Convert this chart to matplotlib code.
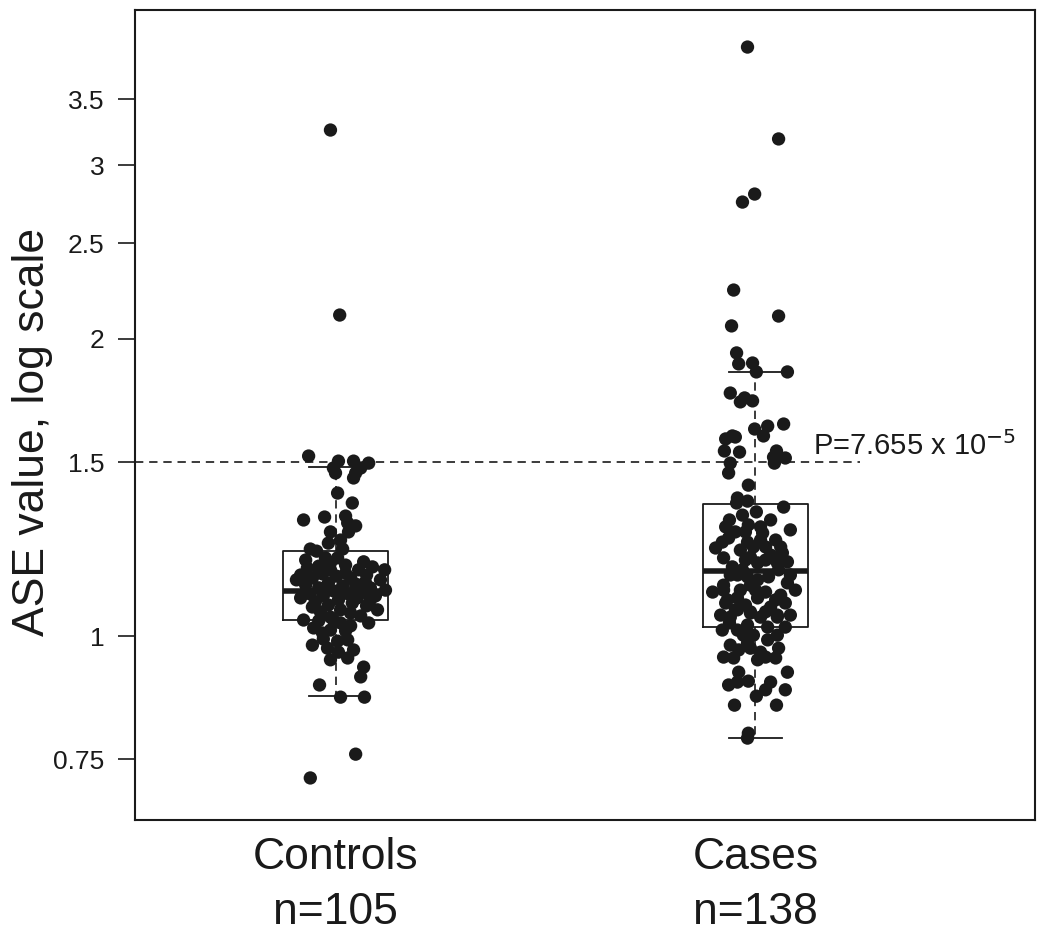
import matplotlib
matplotlib.use("Agg")
import matplotlib.pyplot as plt
import numpy as np

plt.rcParams['font.family'] = ['Liberation Sans', 'DejaVu Sans']

# ---------------- data ----------------
groups = ["Controls", "Cases"]
group_n = ["n=105", "n=138"]

controls_values = [
    3.257, 2.115, 1.522, 1.504, 1.504, 1.497, 1.480, 1.463, 1.463, 1.480,
    1.446, 1.396, 1.364, 1.311, 1.320, 1.323, 1.302, 1.293, 1.275, 1.275,
    1.242, 1.251, 1.225, 1.225, 1.219, 1.200, 1.189, 1.172, 1.177, 1.186,
    1.180, 1.167, 1.175, 1.153, 1.145, 1.156, 1.150, 1.145, 1.153, 1.140,
    1.126, 1.119, 1.132, 1.124, 1.129, 1.119, 1.103, 1.098, 1.111, 1.103,
    1.108, 1.098, 1.083, 1.075, 1.088, 1.080, 1.073, 1.063, 1.055, 1.058,
    1.063, 1.140, 1.167, 1.167, 1.113, 1.093, 1.158, 1.194, 1.200, 1.088,
    1.070, 1.093, 1.113, 1.048, 1.045, 1.106, 1.119, 1.167, 1.134, 1.038,
    1.036, 1.038, 1.031, 1.024, 1.031, 1.019, 1.012, 1.007, 1.014, 0.993,
    0.988, 0.991, 0.972, 0.963, 0.968, 0.950, 0.930, 0.909, 0.892, 0.867,
    0.867, 0.759, 0.718, 0.946, 0.979,
]
controls_jitter = [
    -0.012, 0.010, -0.064, 0.007, 0.043, 0.079, -0.005, 0.000, 0.048, 0.060,
    0.043, 0.005, 0.040, -0.076, -0.026, 0.024, 0.029, 0.048, -0.012, 0.031,
    -0.017, 0.012, 0.017, -0.060, -0.045, -0.024, 0.067, -0.067, -0.040, -0.012,
    0.024, 0.055, 0.088, -0.083, -0.055, -0.031, 0.002, 0.036, 0.074, 0.107,
    -0.071, -0.040, -0.017, 0.017, 0.048, 0.083, -0.060, -0.029, -0.005, 0.031,
    0.064, 0.095, -0.048, -0.017, 0.007, 0.040, 0.074, 0.012, 0.036, -0.036,
    0.100, -0.093, 0.117, -0.012, -0.024, 0.052, 0.024, -0.071, 0.005, 0.083,
    -0.055, -0.083, 0.119, 0.060, -0.012, 0.019, 0.048, -0.040, 0.071, -0.076,
    -0.040, -0.005, 0.012, 0.036, 0.079, -0.052, 0.024, -0.031, -0.012, -0.029,
    0.005, 0.029, -0.019, 0.007, 0.043, 0.029, 0.067, 0.060, -0.038, 0.012,
    0.069, 0.048, -0.060, -0.012, -0.055,
]

cases_values = [
    3.953, 3.190, 2.805, 2.753, 2.242, 2.110, 2.062, 1.936, 1.887, 1.891,
    1.852, 1.852, 1.763, 1.727, 1.743, 1.731, 1.621, 1.632, 1.640, 1.595,
    1.584, 1.595, 1.591, 1.540, 1.536, 1.540, 1.518, 1.497, 1.515, 1.497,
    1.463, 1.380, 1.364, 1.370, 1.422, 1.336, 1.351, 1.311, 1.290, 1.275,
    1.275, 1.272, 1.245, 1.257, 1.245, 1.231, 1.231, 1.231, 1.214, 1.200,
    1.175, 1.202, 1.186, 1.194, 1.186, 1.189, 1.153, 1.148, 1.148, 1.167,
    1.126, 1.113, 1.126, 1.132, 1.093, 1.080, 1.075, 1.093, 1.100, 1.080,
    1.070, 1.045, 1.055, 1.045, 1.050, 1.063, 1.058, 1.058, 1.045, 1.326,
    1.311, 1.281, 1.228, 1.222, 1.251, 1.251, 1.194, 1.208, 1.153, 1.140,
    1.153, 1.108, 1.113, 1.108, 1.113, 1.063, 1.050, 1.050, 1.113, 1.296,
    1.290, 1.088, 1.088, 1.167, 1.031, 1.014, 1.014, 1.026, 1.021, 1.021,
    1.002, 1.002, 1.002, 0.991, 0.979, 0.984, 0.972, 0.972, 0.968, 0.952,
    0.950, 0.946, 0.952, 0.950, 0.963, 0.919, 0.919, 0.892, 0.900, 0.898,
    0.898, 0.882, 0.882, 0.869, 0.851, 0.851, 0.797, 0.788,
]
cases_jitter = [
    -0.019, 0.055, -0.002, -0.031, -0.052, 0.055, -0.057, -0.045, -0.040, -0.007,
    0.002, 0.076, -0.060, -0.036, -0.026, -0.007, -0.002, 0.029, 0.067, 0.019,
    -0.071, -0.055, -0.048, -0.074, -0.038, 0.050, 0.043, 0.045, 0.071, -0.060,
    -0.064, -0.043, -0.045, -0.019, -0.017, 0.002, 0.067, -0.062, -0.071, -0.048,
    -0.024, 0.017, -0.079, -0.064, -0.019, -0.005, 0.024, 0.060, 0.064, -0.076,
    -0.055, -0.012, 0.005, 0.024, 0.052, 0.076, -0.043, -0.019, 0.031, 0.055,
    -0.076, -0.076, -0.012, 0.076, -0.043, -0.071, -0.024, 0.005, 0.060, 0.071,
    0.036, -0.060, -0.012, 0.012, 0.052, -0.043, -0.012, 0.024, 0.052, -0.031,
    0.036, 0.083, -0.095, -0.036, 0.012, 0.048, -0.024, 0.036, -0.060, 0.005,
    0.083, -0.102, -0.036, 0.024, 0.095, -0.048, -0.083, 0.083, 0.000, -0.017,
    0.012, -0.067, 0.048, -0.031, -0.062, -0.079, -0.043, -0.019, 0.029, 0.071,
    -0.029, -0.005, 0.052, 0.029, -0.060, -0.019, -0.012, 0.055, -0.040, -0.076,
    -0.052, 0.005, 0.024, 0.048, 0.012, -0.040, 0.076, -0.064, -0.017, -0.043,
    0.036, 0.024, 0.071, 0.002, -0.050, 0.050, -0.017, -0.019,
]

# box statistics (whislo, q1, median, q3, whishi)
box_whislo = [0.869, 0.788]
box_q1 = [1.038, 1.021]
box_median = [1.111, 1.164]
box_q3 = [1.219, 1.361]
box_whishi = [1.483, 1.852]

y_ticks = [0.75, 1, 1.5, 2, 2.5, 3, 3.5]
y_ticklabels = ["0.75", "1", "1.5", "2", "2.5", "3", "3.5"]
threshold = 1.5
p_label = r"P=7.655 x 10$^{-5}$"

# ---------------- figure ----------------
fig = plt.figure(figsize=(10.5, 9.38), dpi=100)
ax = fig.add_axes([135/1050, 1-820/938, 900/1050, 810/938])

positions = [1, 2]
stats = []
for i in range(2):
    stats.append(dict(med=box_median[i], q1=box_q1[i], q3=box_q3[i],
                      whislo=box_whislo[i], whishi=box_whishi[i], fliers=[]))
ax.bxp(stats, positions=positions, widths=0.25, showfliers=False,
       boxprops=dict(color="#1a1a1a", linewidth=1.3),
       medianprops=dict(color="#1a1a1a", linewidth=4.0, solid_capstyle="butt"),
       whiskerprops=dict(color="#1a1a1a", linewidth=1.2, linestyle=(0, (5, 3.5))),
       capprops=dict(color="#1a1a1a", linewidth=1.3),
       zorder=2)

ax.scatter(np.array(controls_jitter) + positions[0], controls_values,
           s=92, color="#1a1a1a", edgecolors="none", zorder=3)
ax.scatter(np.array(cases_jitter) + positions[1], cases_values,
           s=92, color="#1a1a1a", edgecolors="none", zorder=3)

xlim = (0.5226, 2.6655)
ax.plot([xlim[0], 2.25], [threshold, threshold], color="#1a1a1a",
        linewidth=1.2, linestyle=(0, (5, 3.5)), zorder=1)
ax.text(2.136, threshold * 1.003, p_label, fontsize=21, ha="left",
        va="bottom", color="#1a1a1a")

ax.set_yscale("log")
ax.set_xlim(*xlim)
ax.set_ylim(0.6509, 4.310)
ax.set_yticks(y_ticks)
ax.set_yticklabels(y_ticklabels, fontsize=19)
ax.yaxis.set_minor_locator(matplotlib.ticker.NullLocator())
ax.tick_params(axis="y", length=12, width=1.2, pad=10, colors="#1a1a1a")

ax.set_xticks(positions)
ax.set_xticklabels([g + "\n" + n for g, n in zip(groups, group_n)],
                   fontsize=32, linespacing=1.45)
ax.tick_params(axis="x", length=0, pad=12, colors="#1a1a1a")

for sp in ax.spines.values():
    sp.set_linewidth(1.5)
    sp.set_color("#1a1a1a")

fig.text(33/1050, 1-432/938, "ASE value, log scale", rotation=90,
         fontsize=32, ha="center", va="center", color="#1a1a1a")

fig.savefig("out.png", dpi=100)
